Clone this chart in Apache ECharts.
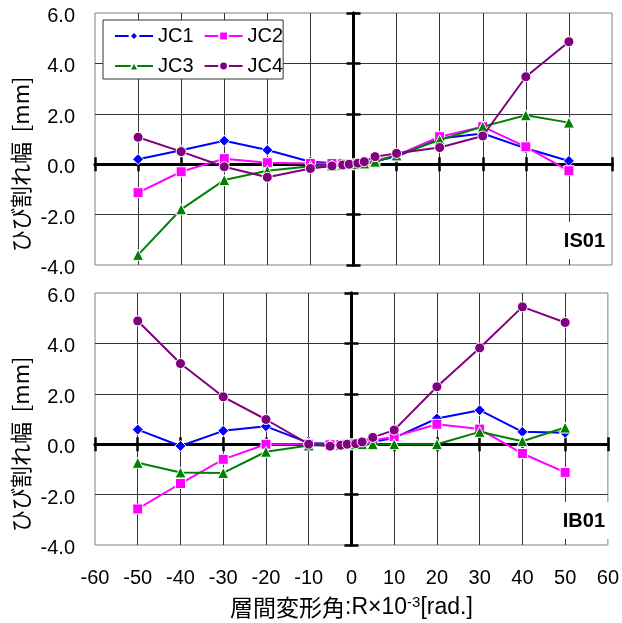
<!DOCTYPE html>
<html>
<head>
<meta charset="utf-8">
<script src="https://cdn.jsdelivr.net/npm/echarts@6/dist/echarts.min.js"></script>
<style>
  html, body { margin: 0; padding: 0; background: #fff; }
  #chart { width: 622px; height: 623px; }
</style>
</head>
<body>
<div id="chart"></div>
<script>
// Story drift angle R (x10^-3 rad) at each recorded peak
const driftAngles = [-50, -40, -30, -20, -10, -5, -2.5, -1, 1, 2.5, 5, 10, 20, 30, 40, 50];

// Crack width [mm], specimen IS01
const is01_JC1 = [0.20, 0.55, 0.93, 0.56, 0.10, 0.05, 0.02, 0, 0.02, 0.05, 0.12, 0.30, 1.02, 1.22, 0.63, 0.13];
const is01_JC2 = [-1.13, -0.30, 0.22, 0.06, 0.03, 0.03, 0.02, 0, 0.02, 0.05, 0.15, 0.35, 1.09, 1.49, 0.69, -0.26];
const is01_JC3 = [-3.60, -1.79, -0.63, -0.26, -0.08, -0.05, -0.02, 0, 0, 0.03, 0.10, 0.35, 0.96, 1.49, 1.94, 1.65];
const is01_JC4 = [1.07, 0.50, -0.10, -0.52, -0.17, -0.07, -0.03, 0, 0.04, 0.10, 0.30, 0.43, 0.66, 1.12, 3.47, 4.86];

// Crack width [mm], specimen IB01
const ib01_JC1 = [0.58, -0.07, 0.53, 0.71, 0.05, 0.02, 0.01, 0, 0.01, 0.05, 0.10, 0.25, 1.02, 1.35, 0.49, 0.45];
const ib01_JC2 = [-2.57, -1.56, -0.60, 0, 0, -0.02, -0.01, 0, 0.02, 0.05, 0.15, 0.30, 0.79, 0.60, -0.37, -1.12];
const ib01_JC3 = [-0.74, -1.12, -1.14, -0.30, -0.05, -0.03, -0.02, 0, 0, 0, 0, 0, 0, 0.49, 0.12, 0.66];
const ib01_JC4 = [4.89, 3.20, 1.88, 0.98, 0, -0.08, -0.04, 0, 0.02, 0.09, 0.27, 0.56, 2.28, 3.82, 5.45, 4.83];

const seriesNames = ['JC1', 'JC2', 'JC3', 'JC4'];
const panelLabels = ['IS01', 'IB01'];
const yTitle = 'ひび割れ幅  [mm]';

// Axis ranges
const xMin = -60, xMax = 60, xStep = 10;
const yMin = -4, yMax = 6, yStep = 2;

const panels = [
  [is01_JC1, is01_JC2, is01_JC3, is01_JC4],
  [ib01_JC1, ib01_JC2, ib01_JC3, ib01_JC4]
];

const styles = [
  { color: '#0000ff', symbol: 'diamond', size: 11 },
  { color: '#ff00ff', symbol: 'rect', size: 10 },
  { color: '#008000', symbol: 'triangle', size: 11 },
  { color: '#800080', symbol: 'circle', size: 10 }
];

const numFont = "'Liberation Sans', Arial, sans-serif";
const cjkFont = "'Noto Sans CJK JP', 'Noto Sans', sans-serif";

const grids = [
  { left: 95, width: 517, top: 13, height: 252 },
  { left: 95, width: 517, top: 293, height: 252 }
];

const xAxes = [], yAxes = [], series = [], graphics = [];

grids.forEach((g, p) => {
  g.show = true;
  g.borderColor = '#808080';
  g.borderWidth = 1;
  g.backgroundColor = '#fff';
  const base = p * 3;
  const isBottom = p === grids.length - 1;

  // main x axis: gridlines and tick labels
  xAxes.push({
    type: 'value', gridIndex: p, min: xMin, max: xMax, interval: xStep,
    axisLine: { show: false, onZero: false },
    axisTick: { show: false },
    splitLine: { show: true, showMinLine: false, showMaxLine: false, lineStyle: { color: '#333', width: 1 } },
    axisLabel: {
      show: isBottom, fontSize: 20, color: '#000', fontFamily: numFont, margin: 23
    },
    name: isBottom ? '層間変形角{l|:R×10}{sup|-3}{l|[rad.]}' : '',
    nameLocation: 'middle',
    nameGap: 50,
    nameTextStyle: {
      fontSize: 23, color: '#000', fontFamily: cjkFont,
      rich: {
        l: { fontSize: 23, color: '#000', fontFamily: numFont },
        sup: { fontSize: 15, color: '#000', fontFamily: numFont, verticalAlign: 'top', padding: [0, 0, 10, 0] }
      }
    }
  });
  // zero-crossing x axis, ticks on both sides
  [false, true].forEach(inside => {
    xAxes.push({
      type: 'value', gridIndex: p, min: xMin, max: xMax, interval: xStep,
      axisLine: { show: true, onZero: true, onZeroAxisIndex: base, lineStyle: { color: '#000', width: 3 } },
      axisTick: { show: true, inside: inside, length: 7, lineStyle: { color: '#000', width: 2.5 } },
      splitLine: { show: false },
      axisLabel: { show: false }
    });
  });

  // main y axis
  yAxes.push({
    type: 'value', gridIndex: p, min: yMin, max: yMax, interval: yStep,
    axisLine: { show: false, onZero: false },
    axisTick: { show: false },
    splitLine: { show: true, showMinLine: false, showMaxLine: false, lineStyle: { color: '#333', width: 1 } },
    axisLabel: {
      color: '#000', margin: 20,
      formatter: v => '{n|' + v.toFixed(1) + '}',
      rich: { n: { fontSize: 20, color: '#000', fontFamily: numFont, padding: [7, 0, 0, 0] } }
    }
  });
  // zero-crossing y axis, ticks on both sides
  [false, true].forEach(inside => {
    yAxes.push({
      type: 'value', gridIndex: p, min: yMin, max: yMax, interval: yStep,
      axisLine: { show: true, onZero: true, onZeroAxisIndex: base, lineStyle: { color: '#000', width: 3 } },
      axisTick: { show: true, inside: inside, length: 7, lineStyle: { color: '#000', width: 2.5 } },
      splitLine: { show: false },
      axisLabel: { show: false }
    });
  });

  // rotated y-axis title, reading upward from near the panel's lower part
  graphics.push({
    type: 'text',
    x: 21,
    y: g.top + g.height / 2 + 113,
    rotation: Math.PI / 2,
    style: {
      text: yTitle,
      fontSize: 22,
      fontFamily: cjkFont,
      fill: '#000',
      align: 'left',
      verticalAlign: 'middle'
    }
  });

  panels[p].forEach((vals, k) => {
    const st = styles[k];
    series.push({
      type: 'line',
      name: seriesNames[k],
      xAxisIndex: base,
      yAxisIndex: base,
      data: driftAngles.map((x, i) => [x, vals[i]]),
      symbol: st.symbol,
      symbolSize: st.size,
      lineStyle: { color: st.color, width: 2 },
      itemStyle: { color: st.color, borderColor: '#fff', borderWidth: 1 },
      z: 3 + k,
      animation: false
    });
  });
});

const titles = panelLabels.map((t, p) => ({
  text: t,
  right: 11,
  top: grids[p].top + 209,
  backgroundColor: '#fff',
  padding: [9, 6, 8, 18],
  textStyle: { fontSize: 20, fontWeight: 'bold', color: '#000', fontFamily: "'Liberation Sans Narrow', 'Liberation Sans', Arial, sans-serif" }
}));

const chart = echarts.init(document.getElementById('chart'), null, { renderer: 'canvas' });
chart.setOption({
  animation: false,
  backgroundColor: '#fff',
  title: titles,
  legend: {
    data: seriesNames,
    left: 103,
    top: 20,
    width: 200,
    orient: 'horizontal',
    padding: [6, 0, 3, 11],
    itemGap: 10,
    itemWidth: 38,
    itemHeight: 11,
    selectedMode: false,
    backgroundColor: '#fff',
    borderColor: '#333',
    borderWidth: 1,
    borderRadius: 0,
    textStyle: { fontSize: 20, color: '#000', fontFamily: numFont, width: 50 }
  },
  graphic: graphics,
  grid: grids,
  xAxis: xAxes,
  yAxis: yAxes,
  series: series
});
</script>
</body>
</html>
